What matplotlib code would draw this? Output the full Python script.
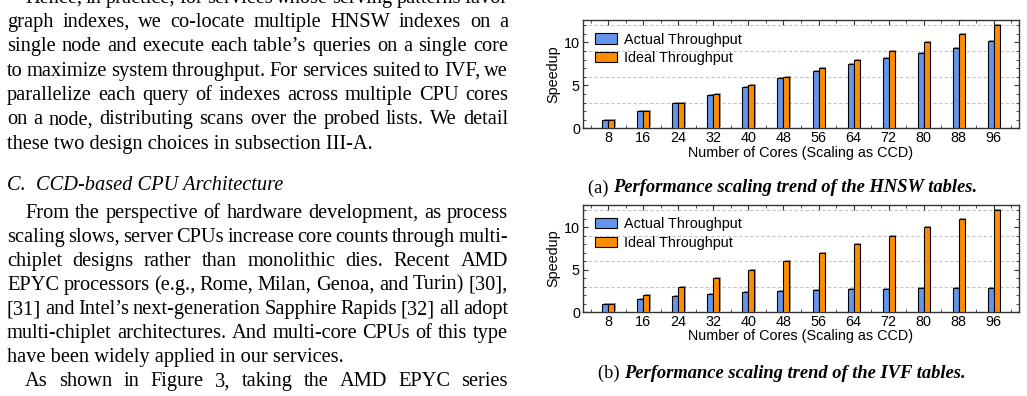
import matplotlib
matplotlib.use("Agg")
import matplotlib.pyplot as plt
import numpy as np
from matplotlib import patheffects as pe
from matplotlib.ticker import MultipleLocator

# ---------------- data ----------------
cores = [8, 16, 24, 32, 40, 48, 56, 64, 72, 80, 88, 96]
hnsw_actual = [1.0, 2.0, 2.92, 3.87, 4.8, 5.85, 6.66, 7.45, 8.14, 8.72, 9.3, 10.15]
hnsw_ideal = [1, 2, 3, 4, 5, 6, 7, 8, 9, 10, 11, 12]
ivf_actual = [1.0, 1.6, 1.95, 2.2, 2.4, 2.55, 2.65, 2.7, 2.75, 2.8, 2.8, 2.8]
ivf_ideal = [1, 2, 3, 4, 5, 6, 7, 8, 9, 10, 11, 12]
series_labels = ["Actual Throughput", "Ideal Throughput"]
y_ticks = [0, 5, 10]
grid_levels = [3, 6, 9, 12]
x_label = "Number of Cores (Scaling as CCD)"
y_label = "Speedup"
caption_a = ("(a) ", "Performance scaling trend of the HNSW tables.")
caption_b = ("(b) ", "Performance scaling trend of the IVF tables.")

para1 = [
    ("Hence, in practice, for services whose serving patterns favor", True, True),
    ("graph indexes, we co-locate multiple HNSW indexes on a", True, False),
    ("single node and execute each table\u2019s queries on a single core", True, False),
    ("to maximize system throughput. For services suited to IVF, we", True, False),
    ("parallelize each query of indexes across multiple CPU cores", True, False),
    ("on a node, distributing scans over the probed lists. We detail", True, False),
    ("these two design choices in subsection III-A.", False, False),
]
heading = "C.  CCD-based CPU Architecture"
para2 = [
    ("From the perspective of hardware development, as process", True, True),
    ("scaling slows, server CPUs increase core counts through multi-", True, False),
    ("chiplet designs rather than monolithic dies. Recent AMD", True, False),
    ("EPYC processors (e.g., Rome, Milan, Genoa, and Turin) [30],", True, False),
    ("[31] and Intel\u2019s next-generation Sapphire Rapids [32] all adopt", True, False),
    ("multi-chiplet architectures. And multi-core CPUs of this type", True, False),
    ("have been widely applied in our services.", False, False),
    ("As shown in  Figure 3, taking the AMD EPYC series", True, True),
]

# ---------------- layout ----------------
W, H = 1027, 396
fig = plt.figure(figsize=(W / 100, H / 100), dpi=100)
renderer = fig.canvas.get_renderer()

BLUE = "#6495ED"
ORANGE = "#FF8C00"
FRAME = "#333333"
SANS = "Liberation Sans"
SERIF = "Liberation Serif"
CFS = 10.4  # chart font size


def px(x, y):
    return x / W, 1 - y / H


def measure(s, **kw):
    t = fig.text(0, 0, s, **kw)
    w = t.get_window_extent(renderer=renderer).width
    t.remove()
    return w


def ax_rect(l, t, r, b):
    return [l / W, 1 - b / H, (r - l) / W, (b - t) / H]


def draw_chart(ax, actual, ideal):
    x = np.arange(len(cores))
    w = 0.171
    for g in grid_levels:
        ax.axhline(g, color="#c4c4c4", lw=0.8, ls=(0, (3, 2)), zorder=1)
    shadow = [pe.SimplePatchShadow(offset=(1.0, 0.7), shadow_rgbFace="#444444", alpha=0.55), pe.Normal()]
    b1 = ax.bar(x - w / 2, actual, w, color=BLUE, edgecolor="black", lw=0.8, zorder=3)
    b2 = ax.bar(x + w / 2, ideal, w, color=ORANGE, edgecolor="black", lw=0.8, zorder=3)
    for p in list(b1) + list(b2):
        p.set_path_effects(shadow)
    ax.set_xlim(-0.73, 11.73)
    ax.set_ylim(0, 12.6)
    ax.set_xticks(x, [str(c) for c in cores])
    ax.set_xticks(np.arange(-0.5, len(cores), 1.0), minor=True)
    ax.set_yticks(y_ticks)
    ax.yaxis.set_minor_locator(MultipleLocator(1))
    ax.tick_params(which="both", direction="in", top=True, right=True,
                   labelsize=CFS, pad=2.0, color=FRAME)
    ax.tick_params(which="major", length=3.5, width=0.8)
    ax.tick_params(which="minor", length=2, width=0.6)
    for lab in ax.get_xticklabels() + ax.get_yticklabels():
        lab.set_family(SANS)
    for s in ax.spines.values():
        s.set_color(FRAME)
        s.set_linewidth(1.0)
    ax.set_xlabel(x_label, fontsize=CFS, family=SANS)
    ax.xaxis.set_label_coords(0.5, -0.225)
    ax.xaxis.label.set_verticalalignment("center")
    ax.set_ylabel(y_label, fontsize=CFS, family=SANS)
    ax.yaxis.set_label_coords(-0.068, 0.5)
    ax.yaxis.label.set_verticalalignment("center")
    leg = ax.legend([b1, b2], series_labels, loc="upper left",
                    bbox_to_anchor=(0.029, 0.884), frameon=False,
                    prop={"family": SANS, "size": CFS},
                    handlelength=1.53, handleheight=0.69, handletextpad=0.48,
                    labelspacing=0.32, borderaxespad=0, borderpad=0)
    for h in leg.legend_handles:
        h.set_path_effects([])
    return ax


ax_a = fig.add_axes(ax_rect(582.7, 20, 1019.3, 128.3))
draw_chart(ax_a, hnsw_actual, hnsw_ideal)
ax_b = fig.add_axes(ax_rect(582.7, 205, 1019.3, 312.3))
draw_chart(ax_b, ivf_actual, ivf_ideal)


def caption(parts, cx, cy, size=13.3):
    pre, main = parts
    w1 = measure(pre, family=SERIF, size=size)
    w2 = measure(main, family=SERIF, size=size, weight="bold", style="italic")
    x0 = cx - (w1 + w2) / 2
    fig.text(*px(x0, cy), pre, family=SERIF, size=size, va="center_baseline")
    fig.text(*px(x0 + w1, cy), main, family=SERIF, size=size, weight="bold",
             style="italic", va="center_baseline")


caption(caption_a, 783, 186)
caption(caption_b, 782, 371)

# ---------------- left column text ----------------
BODY = 14.7
LEFT, RIGHT, INDENT = 7, 508, 25


def body_line(s, y_base, justify, indent):
    x0 = LEFT + (INDENT - LEFT if indent else 0)
    words = s.split()
    if not justify or len(words) < 2:
        fig.text(*px(x0, y_base), s, family=SERIF, size=BODY, va="baseline")
        return
    widths = [measure(wd, family=SERIF, size=BODY) for wd in words]
    gap = (RIGHT - x0 - sum(widths)) / (len(words) - 1)
    x = x0
    for wd, ww in zip(words, widths):
        fig.text(*px(x, y_base), wd, family=SERIF, size=BODY, va="baseline")
        x += ww + gap


XH = 4.5
for i, (s, j, ind) in enumerate(para1):
    body_line(s, -1.8 + 24.3 * i + XH, j, ind)
fig.text(*px(LEFT, 185 + XH), heading, family=SERIF, size=BODY, style="italic", va="baseline")
for i, (s, j, ind) in enumerate(para2):
    body_line(s, 213.3 + 24.06 * i + XH, j, ind)

fig.savefig("out.png", dpi=100)
